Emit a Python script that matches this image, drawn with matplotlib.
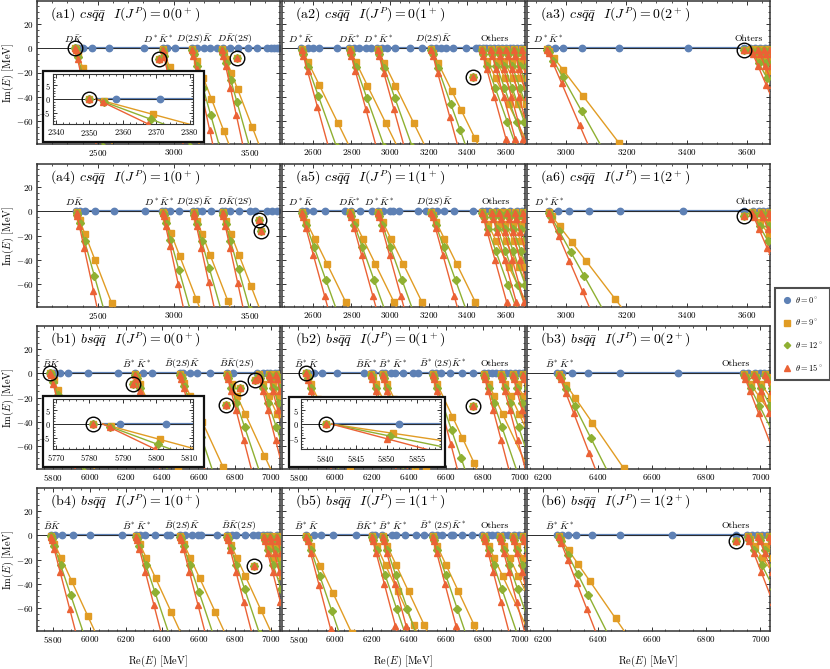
import numpy as np
import matplotlib
matplotlib.use('Agg')
import matplotlib.pyplot as plt
from matplotlib.lines import Line2D
from matplotlib.patches import Rectangle
from matplotlib.ticker import MultipleLocator

plt.rcParams['font.family'] = ['cmr10', 'DejaVu Serif']
plt.rcParams['mathtext.fontset'] = 'cm'
plt.rcParams['axes.formatter.use_mathtext'] = True

# ---------------- data (MeV) ----------------
THETAS = [9, 12, 15]

# (a1) cs qq  I(J^P)=0(0+)
a1_thr = [2352, 2925, 3120, 3317]
a1_rad = [[2.5, 18, 52, 110, 200], [3, 15, 50, 110, 200],
          [3, 12, 35, 80, 135, 220], [3, 12, 30, 65, 110, 210]]
a1_real = [2350, 2358, 2371, 2402, 2461, 2576, 2805, 2930, 2959, 3006, 3122, 3155, 3198,
           3242, 3286, 3325, 3373, 3426, 3491, 3548, 3614, 3640, 3660, 3680, 3695]
a1_res_re = [2350, 2906, 3417]
a1_res_im = [0, -9, -7.7]
a1_lab = [r'$D\bar{K}$', r'$D^*\bar{K}^*$', r'$D(2S)\bar{K}$', r'$D\bar{K}(2S)$']
a1_labx = [2342, 2900, 3139, 3406]

# (a2) 0(1+)
a2_thr = [2540, 2788, 2933, 3212, 3472, 3520, 3560, 3600, 3640, 3680]
a2_rad = [[3, 12, 38, 97, 200], [3, 12, 38, 100, 200], [3, 12, 40, 100, 200],
          [3, 12, 40, 113, 165, 240], [3, 12, 35, 80, 150], [3, 12, 35, 80, 150],
          [3, 12, 35, 80, 150], [3, 12, 35, 80, 150], [3, 12, 35, 80], [3, 12, 35]]
a2_real = [2540, 2574, 2600, 2634, 2723, 2788, 2814, 2839, 2877, 2899, 2933, 2959, 2984,
           3027, 3104, 3164, 3212, 3241, 3266, 3292, 3326, 3394, 3446, 3463, 3480, 3500,
           3520, 3540, 3560, 3580, 3600, 3620, 3640, 3660, 3680, 3695]
a2_res_re = [3430]
a2_res_im = [-24]
a2_lab = [r'$D^*\bar{K}$', r'$D\bar{K}^*$', r'$D^*\bar{K}^*$', r'$D(2S)\bar{K}$', 'Others']
a2_labx = [2540, 2788, 2939, 3228, 3541]

# (a3) 0(2+)
a3_thr = [2935, 3612, 3635, 3655, 3675]
a3_rad = [[3, 8, 25, 58, 127, 252], [3, 10, 30, 60, 120], [3, 10, 30, 60, 120],
          [3, 10, 30, 60], [3, 10, 30]]
a3_real = [2940, 2962, 2989, 3053, 3175, 3405, 3590, 3612, 3628, 3645, 3661, 3675]
a3_res_re = [3590]
a3_res_im = [-1.5]
a3_lab = [r'$D^*\bar{K}^*$', 'Ohters']
a3_labx = [2940, 3607]

# (a4) 1(0+)
a4_thr = [2358, 2926, 3129, 3319]
a4_rad = [[3, 8, 24, 61, 131, 245], [3, 8, 24, 58, 120, 235],
          [3, 8, 25, 60, 116, 240], [3, 8, 25, 60, 118, 200]]
a4_real = [2358, 2380, 2417, 2484, 2605, 2810, 2926, 2941, 2976, 3035, 3129, 3155, 3188,
           3247, 3319, 3340, 3369, 3427, 3504, 3537, 3613, 3646, 3679]
a4_res_re = [3565, 3576]
a4_res_im = [-6.9, -16.3]
a4_lab = [r'$D\bar{K}$', r'$D^*\bar{K}^*$', r'$D(2S)\bar{K}$', r'$D\bar{K}(2S)$']
a4_labx = [2349, 2905, 3134, 3406]

# (a5) 1(1+)
a5_thr = [2540, 2790, 2935, 3212, 3475, 3525, 3565, 3605, 3645, 3685]
a5_rad = [[3, 10, 28, 73, 140, 243], [3, 10, 28, 73, 140, 243], [3, 10, 28, 73, 140, 243],
          [3, 10, 28, 73, 140, 243], [3, 12, 35, 80, 150], [3, 12, 35, 80, 150],
          [3, 12, 35, 80, 150], [3, 12, 35, 80], [3, 12, 35], [3, 12]]
a5_real = [2542, 2565, 2601, 2661, 2769, 2800, 2845, 2908, 2939, 2966, 2999, 3017, 3048,
           3144, 3189, 3216, 3243, 3279, 3334, 3430, 3475, 3496, 3515, 3551, 3587, 3623,
           3659, 3686]
a5_res_re = []
a5_res_im = []
a5_lab = [r'$D^*\bar{K}$', r'$D\bar{K}^*$', r'$D^*\bar{K}^*$', r'$D(2S)\bar{K}$', 'Others']
a5_labx = [2540, 2790, 2945, 3230, 3548]

# (a6) 1(2+)
a6_thr = [2940, 3615, 3645, 3670]
a6_rad = [[3, 12, 40, 82, 132, 234], [3, 10, 30, 60, 120], [3, 10, 30, 60], [3, 10, 30]]
a6_real = [2944, 2973, 3010, 3075, 3179, 3387, 3590, 3621, 3640, 3655, 3670]
a6_res_re = [3590]
a6_res_im = [-4]
a6_lab = [r'$D^*\bar{K}^*$', 'Ohters']
a6_labx = [2945, 3610]

# (b1) bs qq  0(0+)
b1_thr = [5784, 6250, 6498, 6755, 6930, 6985, 7025]
b1_rad = [[2.5, 18, 45, 100, 200], [3, 10, 30, 70, 140, 250], [3, 10, 25, 60, 130, 250],
          [3, 10, 30, 60, 110, 220], [3, 10, 30, 60, 110], [3, 10, 30, 60, 110], [3, 10, 30, 60]]
b1_real = [5781, 5789, 5803, 5837, 5882, 5993, 6158, 6250, 6296, 6342, 6498, 6516, 6553,
           6590, 6663, 6755, 6792, 6921, 6957, 6976, 6994, 7021, 7040]
b1_res_re = [5781, 6241, 6751, 6832, 6911]
b1_res_im = [0, -9, -26.6, -12.2, -5.3]
b1_lab = [r'$\bar{B}\bar{K}$', r'$\bar{B}^*\bar{K}^*$', r'$\bar{B}(2S)\bar{K}$', r'$\bar{B}\bar{K}(2S)$']
b1_labx = [5785, 6259, 6513, 6810]

# (b2) 0(1+)
b2_thr = [5841, 6193, 6255, 6526, 6805, 6895, 6961, 7017]
b2_rad = [[10.5, 30, 70, 140, 250], [3, 10, 30, 70, 140, 250], [3, 10, 30, 70, 140, 250],
          [3, 10, 30, 116, 172, 240], [3, 10, 30, 60, 110], [3, 10, 30, 60, 110],
          [3, 10, 30, 60], [3, 10, 30]]
b2_real = [5840, 5852, 5886, 5928, 6011, 6154, 6193, 6207, 6255, 6269, 6303, 6326, 6368,
           6421, 6450, 6526, 6546, 6575, 6622, 6689, 6746, 6805, 6828, 6850, 6875, 6900,
           6925, 6950, 6975, 7000, 7020]
b2_res_re = [5840, 6747]
b2_res_im = [0, -27.3]
b2_lab = [r'$\bar{B}^*\bar{K}$', r'$\bar{B}\bar{K}^*$', r'$\bar{B}^*\bar{K}^*$',
          r'$\bar{B}^*(2S)\bar{K}^*$', 'Others']
b2_labx = [5843, 6165, 6311, 6583, 6866]

# (b3) 0(2+)
b3_thr = [6255, 6936, 6975, 7015]
b3_rad = [[3, 10, 32, 66, 132, 253], [3, 10, 30, 66, 130], [3, 10, 30, 66, 130], [3, 10, 30, 66]]
b3_real = [6252, 6270, 6306, 6366, 6482, 6697, 6936, 6955, 6981, 7000, 7013, 7032]
b3_res_re = []
b3_res_im = []
b3_lab = [r'$\bar{B}^*\bar{K}^*$', 'Others']
b3_labx = [6258, 6910]

# (b4) 1(0+)
b4_thr = [5785, 6255, 6498, 6755, 6957, 6994, 7030]
b4_rad = [[2.5, 8, 22, 61, 122, 215], [3, 8, 22, 60, 115, 205], [3, 8, 22, 60, 115, 205],
          [3, 8, 25, 60, 110, 200], [3, 10, 30, 60, 110], [3, 10, 30, 60], [3, 10, 30]]
b4_real = [5785, 5809, 5846, 5910, 6002, 6177, 6255, 6278, 6305, 6360, 6425, 6443, 6498,
           6525, 6562, 6599, 6617, 6700, 6755, 6783, 6810, 6856, 6902, 6929, 6957, 6976,
           6993, 7031]
b4_res_re = [6906]
b4_res_im = [-25.4]
b4_lab = [r'$\bar{B}\bar{K}$', r'$\bar{B}^*\bar{K}^*$', r'$\bar{B}(2S)\bar{K}$', r'$\bar{B}\bar{K}(2S)$']
b4_labx = [5791, 6259, 6513, 6819]

# (b5) 1(1+)
b5_thr = [5841, 6197, 6255, 6526, 6805, 6890, 6960, 7017]
b5_rad = [[3, 10, 30, 82, 154, 260], [3, 10, 30, 80, 150, 240], [3, 10, 30, 80, 150, 240],
          [3, 10, 30, 80, 150, 240], [3, 10, 30, 60, 110], [3, 10, 30, 60, 110],
          [3, 10, 30, 60], [3, 10, 30]]
b5_real = [5843, 5882, 5920, 5987, 6111, 6197, 6216, 6255, 6308, 6331, 6379, 6436, 6484,
           6526, 6551, 6580, 6627, 6637, 6690, 6742, 6799, 6828, 6850, 6880, 6910, 6940,
           6970, 7000, 7025]
b5_res_re = []
b5_res_im = []
b5_lab = [r'$\bar{B}^*\bar{K}$', r'$\bar{B}\bar{K}^*$', r'$\bar{B}^*\bar{K}^*$',
          r'$\bar{B}^*(2S)\bar{K}^*$', 'Others']
b5_labx = [5843, 6165, 6311, 6583, 6866]

# (b6) 1(2+)
b6_thr = [6255, 6950, 6990, 7030]
b6_rad = [[3, 12, 40, 78, 122, 222], [3, 10, 30, 60, 110], [3, 10, 30, 60], [3, 10, 30]]
b6_real = [6252, 6270, 6290, 6322, 6379, 6482, 6674, 6908, 6949, 6968, 6987, 7006, 7025]
b6_res_re = [6908]
b6_res_im = [-4.7]
b6_lab = [r'$\bar{B}^*\bar{K}^*$', 'Others']
b6_labx = [6258, 6910]

titles = [r'(a1) $cs\bar{q}\bar{q}$  $I(J^P)=0(0^+)$', r'(a2) $cs\bar{q}\bar{q}$  $I(J^P)=0(1^+)$',
          r'(a3) $cs\bar{q}\bar{q}$  $I(J^P)=0(2^+)$', r'(a4) $cs\bar{q}\bar{q}$  $I(J^P)=1(0^+)$',
          r'(a5) $cs\bar{q}\bar{q}$  $I(J^P)=1(1^+)$', r'(a6) $cs\bar{q}\bar{q}$  $I(J^P)=1(2^+)$',
          r'(b1) $bs\bar{q}\bar{q}$  $I(J^P)=0(0^+)$', r'(b2) $bs\bar{q}\bar{q}$  $I(J^P)=0(1^+)$',
          r'(b3) $bs\bar{q}\bar{q}$  $I(J^P)=0(2^+)$', r'(b4) $bs\bar{q}\bar{q}$  $I(J^P)=1(0^+)$',
          r'(b5) $bs\bar{q}\bar{q}$  $I(J^P)=1(1^+)$', r'(b6) $bs\bar{q}\bar{q}$  $I(J^P)=1(2^+)$']

# ---------------- style ----------------
COL = {0: '#5E81B5', 9: '#E19C24', 12: '#8FB032', 15: '#EB6235'}
MRK = {0: 'o', 9: 's', 12: 'D', 15: '^'}
MS = {0: 4.6, 9: 4.8, 12: 3.6, 15: 5.0}
ZO = {0: 2, 9: 3, 12: 4, 15: 5}
RAY = 700.0

def mk(name):
    g = globals()
    return dict(thr=g[name + '_thr'], rad=g[name + '_rad'], real=g[name + '_real'],
                res_re=g[name + '_res_re'], res_im=g[name + '_res_im'],
                lab=g[name + '_lab'], labx=g[name + '_labx'])

names = ['a1', 'a2', 'a3', 'a4', 'a5', 'a6', 'b1', 'b2', 'b3', 'b4', 'b5', 'b6']
xlims = {'a1': (2100, 3700), 'a2': (2440, 3700), 'a3': (2870, 3677),
         'a4': (2100, 3700), 'a5': (2440, 3700), 'a6': (2870, 3677),
         'b1': (5710, 7050), 'b2': (5711, 7030), 'b3': (6140, 7035),
         'b4': (5710, 7050), 'b5': (5711, 7030), 'b6': (6140, 7035)}
xmaj = {'a1': 500, 'a4': 500}
xmin = {'a1': 100, 'a4': 100}


def draw(ax, P, labels=True):
    thr0 = P['thr'][0]
    xs = [thr0] + [r for r in P['real'] if r > thr0]
    ax.plot(xs, np.zeros(len(xs)), color=COL[0], lw=1.6, zorder=1.2)
    ax.axhline(0, color='#2a2a2a', lw=0.7, zorder=1.5)
    ax.plot(P['real'], np.zeros(len(P['real'])), ls='none', marker=MRK[0], ms=MS[0],
            color=COL[0], mec=COL[0], zorder=ZO[0])
    for th in THETAS:
        c, s = np.cos(np.radians(2 * th)), np.sin(np.radians(2 * th))
        for t, rs in zip(P['thr'], P['rad']):
            ax.plot([t, t + RAY * c], [0, -RAY * s], color=COL[th], lw=1.0, zorder=ZO[th])
            rs = np.asarray(rs, dtype=float)
            ax.plot(t + rs * c, -rs * s, ls='none', marker=MRK[th], ms=MS[th],
                    color=COL[th], mec=COL[th], zorder=ZO[th])
        if P['res_re']:
            ax.plot(P['res_re'], P['res_im'], ls='none', marker=MRK[th], ms=MS[th],
                    color=COL[th], mec=COL[th], zorder=ZO[th])
    if P['res_re']:
        ax.plot(P['res_re'], P['res_im'], ls='none', marker='o', ms=10.5, mfc='none',
                mec='k', mew=1.0, zorder=7)
    if labels:
        for txt, x in zip(P['lab'], P['labx']):
            ax.text(x, 7.5, txt, ha='center', va='center', fontsize=7, zorder=8)


def style(ax, maj, mnr, ymaj, ymin_, fs=6.5):
    ax.xaxis.set_major_locator(MultipleLocator(maj))
    ax.xaxis.set_minor_locator(MultipleLocator(mnr))
    ax.yaxis.set_major_locator(MultipleLocator(ymaj))
    ax.yaxis.set_minor_locator(MultipleLocator(ymin_))
    ax.tick_params(which='both', direction='in', top=True, right=True, labelsize=fs,
                   color='#333333', pad=2.5)
    ax.tick_params(which='major', length=3.2, width=0.7)
    ax.tick_params(which='minor', length=1.7, width=0.6)
    for sp in ax.spines.values():
        sp.set_color('#333333')
        sp.set_linewidth(1.1)


W, H = 830, 669
fig = plt.figure(figsize=(8.3, 6.69), dpi=100)
col_left = [37, 282, 527]
row_top = [1, 164, 326, 488]
cw, rh = 243, 143

axes = {}
for i, nm in enumerate(names):
    r, c = divmod(i, 3)
    ax = fig.add_axes([col_left[c] / W, 1 - (row_top[r] + rh) / H, cw / W, rh / H])
    P = mk(nm)
    draw(ax, P)
    ax.set_xlim(*xlims[nm])
    ax.set_ylim(-79, 39)
    style(ax, xmaj.get(nm, 200), xmin.get(nm, 50), 20, 5)
    if c != 0:
        ax.tick_params(labelleft=False)
    else:
        ax.set_ylabel(r'Im$(E)$ [MeV]', fontsize=7.5)
        ax.yaxis.set_label_coords(-21 / cw, 0.5)
    if r == 3:
        ax.set_xlabel(r'Re$(E)$ [MeV]', fontsize=7.5)
        ax.xaxis.set_label_coords(0.5, -23 / rh)
    ax.text(0.053, 0.9, titles[i], transform=ax.transAxes, fontsize=10, ha='left', va='center')
    axes[nm] = ax

# ---------------- insets ----------------
insets = [('a1', (42.7, 71, 204, 141.7), (52.7, 74, 193, 124), (2339, 2381), 10),
          ('b1', (42.7, 396, 204, 466.7), (52.7, 399, 193, 449), (5769, 5811), 10),
          ('b2', (289.3, 397.3, 445, 466.7), (301.3, 399, 441.3, 449.3), (5836, 5859), 5)]
for nm, box, area, xl, step in insets:
    x0, y0, x1, y1 = box
    fig.add_artist(Rectangle((x0 / W, 1 - y1 / H), (x1 - x0) / W, (y1 - y0) / H,
                             transform=fig.transFigure, facecolor='white',
                             edgecolor='#111111', lw=1.6, zorder=1))
    a0, b0, a1_, b1_ = area
    iax = fig.add_axes([a0 / W, 1 - b1_ / H, (a1_ - a0) / W, (b1_ - b0) / H], zorder=2)
    draw(iax, mk(nm), labels=False)
    iax.set_xlim(*xl)
    iax.set_ylim(-9, 9)
    style(iax, step, step / 5, 5, 1, fs=6)
    iax.tick_params(axis='y', pad=1.5)
    for sp in iax.spines.values():
        sp.set_linewidth(0.8)

# ---------------- legend ----------------
handles = [Line2D([], [], ls='none', marker=MRK[t], ms=MS[t] * 0.9, color=COL[t], mec=COL[t])
           for t in [0, 9, 12, 15]]
labels = [r'$\theta=0^\circ$', r'$\theta=9^\circ$', r'$\theta=12^\circ$', r'$\theta=15^\circ$']
leg = fig.legend(handles, labels, loc='center', bbox_to_anchor=(802.5 / W, 1 - 334 / H),
                 fontsize=6, frameon=True, fancybox=False, edgecolor='#222222',
                 labelspacing=1.45, borderpad=0.9, handletextpad=0.3, handlelength=1.2)
leg.get_frame().set_linewidth(1.5)

fig.savefig('out.png', dpi=100)
